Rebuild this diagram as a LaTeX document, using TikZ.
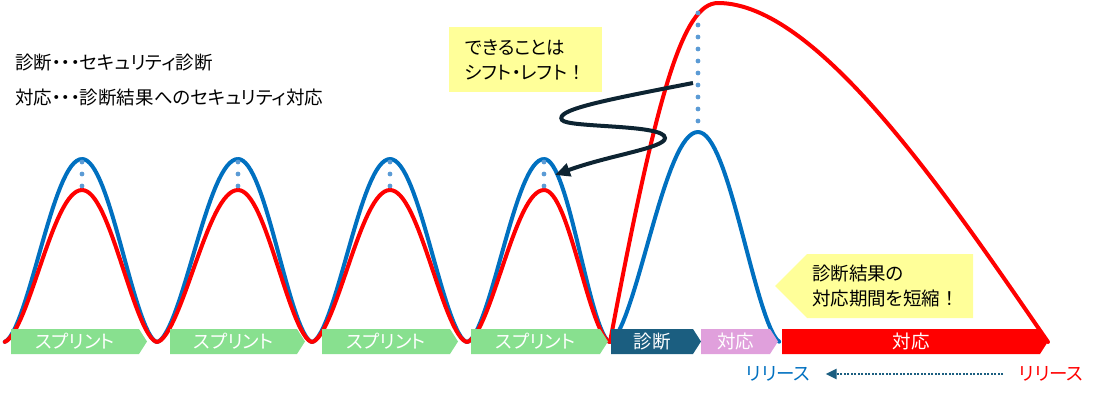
\documentclass[tikz,border=0pt]{standalone}
\usepackage{fontspec}
\setmainfont{Noto Sans CJK JP}[RawFeature=+palt]
\usetikzlibrary{arrows.meta}

\definecolor{sprintgreen}{RGB}{136,224,143}
\definecolor{diagteal}{RGB}{27,94,128}
\definecolor{fixpink}{RGB}{224,160,220}
\definecolor{noteyellow}{RGB}{255,255,153}
\definecolor{curveblue}{RGB}{0,112,192}
\definecolor{dotblue}{RGB}{91,155,213}
\definecolor{arrowdark}{RGB}{13,36,50}

\newcommand{\fullbang}{{\addfontfeatures{RawFeature=-palt}！}}

\begin{document}
\begin{tikzpicture}[x=1pt, y=-1pt,
    font=\fontsize{18.5pt}{25pt}\selectfont,
    bluecurve/.style={draw=curveblue, line width=4pt, line cap=round, line join=round},
    redcurve/.style={draw=red, line width=4pt, line cap=round, line join=round},
    phasetext/.style={text=white, inner sep=0pt},
    plaintext/.style={inner sep=0pt, anchor=west, align=left},
    notebox/.style={fill=noteyellow, align=left, inner xsep=16pt, inner ysep=0pt},
    peakdot/.style={fill=dotblue},
    shiftarrow/.style={draw=arrowdark, line width=4pt, -{Triangle[length=15pt,width=13pt]}},
    releasearrow/.style={draw=diagteal, line width=2.4pt, dash pattern=on 2pt off 1.5pt,
        -{Triangle[length=11pt,width=10pt]}, shorten >=15pt, shorten <=16pt}]
    \useasboundingbox (0,0) rectangle (1120,399);

    % sprints
    \foreach \xl/\xp/\xr in {4/82/157, 157/238/312, 312/390/467, 467/544/610}{
        \draw[bluecurve] plot[domain=0.01:1, samples=30] ({\xl+(\xp-\xl)*\x}, {342-183*(sin(90*\x))^1.7})
            -- plot[domain=1:0.01, samples=30] ({\xr-(\xr-\xp)*\x}, {342-183*(sin(90*\x))^1.7});
    }
    \draw[bluecurve] plot[domain=0.01:1, samples=30] ({610+88*\x}, {342-210*(sin(90*\x))^1.6})
        -- plot[domain=1:0.01, samples=30] ({780-82*\x}, {342-210*(sin(90*\x))^1.6});
    \foreach \xl/\xp/\xr in {4/82/157, 157/238/312, 312/390/467, 467/544/610}{
        \draw[redcurve] plot[domain=0.01:1, samples=30] ({\xl+(\xp-\xl)*\x}, {342-152*(sin(90*\x))^1.7})
            -- plot[domain=1:0.01, samples=30] ({\xr-(\xr-\xp)*\x}, {342-152*(sin(90*\x))^1.7});
    }
    \draw[redcurve] (610,342) .. controls (657,92) and (683,3) .. (718,3)
        .. controls (818,3) and (948,197) .. (1048,342);

    \foreach \xp in {82,238,390,544}
        \foreach \y in {162,174,186}
            \fill[peakdot] (\xp,\y) circle (2.4pt);
    \foreach \y in {13,25,...,121}
        \fill[peakdot] (698,\y) circle (2.4pt);

    % phase bars
    \foreach \xl/\xr/\col/\lbl [count=\i] in {11/139/sprintgreen/スプリント, 170/297/sprintgreen/スプリント,
            322/450/sprintgreen/スプリント, 471/600/sprintgreen/スプリント, 611/693/diagteal/診断,
            701/770/fixpink/対応, 782/1040/red/対応}{
        \fill[\col] (\xl,329) -- (\xr,329) -- (\xr+8,341.5) -- (\xr,354) -- (\xl,354) -- cycle;
        \node[phasetext] (phase\i) at ({(\xl+\xr)/2},341.5) {\lbl};
    }

    \node[plaintext] (diagdef) at (15,63) {診断・・・セキュリティ診断};
    \node[plaintext] (fixdef) at (15,98) {対応・・・診断結果へのセキュリティ対応};

    \node[notebox, minimum width=153pt, minimum height=65pt, text width=121pt] (shiftnote)
        at (525.5,59.5) {できることは\\シフト・レフト\fullbang};
    \coordinate (bigpeak) at (693,83);
    \coordinate (sprintpeak) at (555,175);
    \draw[shiftarrow] (bigpeak) .. controls (600,101) and (555,110) .. (562,120)
        .. controls (568,128) and (665,124) .. (665,138)
        .. controls (665,148) and (610,155) .. (sprintpeak);

    \fill[noteyellow] (775,286) -- (807,254) -- (973,254) -- (973,318) -- (807,318) -- cycle;
    \node[plaintext] (shortnote) at (812,286) {診断結果の\\対応期間を短縮\fullbang};

    \node[plaintext, text=curveblue] (relnew) at (746,374) {リリース};
    \node[plaintext, text=red] (relold) at (1019,374) {リリース};
    \draw[releasearrow] (relold) -- (relnew);
\end{tikzpicture}
\end{document}
